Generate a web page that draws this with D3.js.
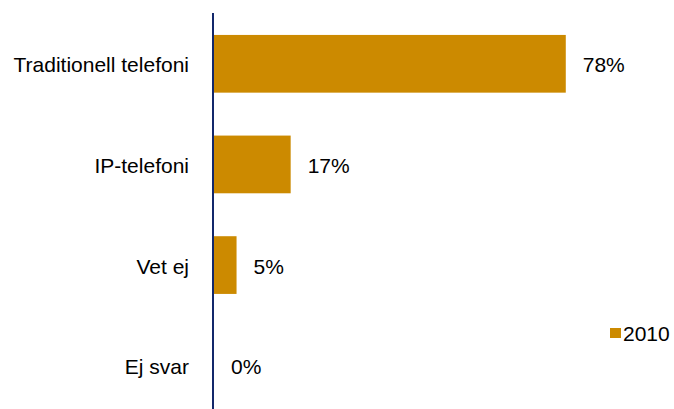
<!DOCTYPE html>
<html>
<head>
<meta charset="utf-8">
<script src="https://cdn.jsdelivr.net/npm/d3@7"></script>
<style>
  html, body { margin: 0; padding: 0; background: #fff; }
  svg { display: block; }
  text { font-family: "Liberation Sans", Arial, sans-serif; fill: #000; }
</style>
</head>
<body>
<script>
// Survey answers, share of respondents (%)
const categories = ["Traditionell telefoni", "IP-telefoni", "Vet ej", "Ej svar"];
const values2010 = [78, 17, 5, 0];
const seriesName = "2010";

const W = 674, H = 409;
const barColor = "#CC8A00";
const axisColor = "#13286B";
const fontSize = 21;

const svg = d3.select("body").append("svg")
  .attr("width", W).attr("height", H);

const x = d3.scaleLinear().domain([0, 100]).range([214, 665]);
const y = d3.scaleBand().domain(categories)
  .range([13.5, 416]).paddingInner(0.4265).paddingOuter(0.213);

// bars
svg.append("g").selectAll("rect")
  .data(categories)
  .join("rect")
  .attr("x", x(0))
  .attr("y", d => y(d))
  .attr("width", (d, i) => x(values2010[i]) - x(0))
  .attr("height", y.bandwidth())
  .attr("fill", barColor);

// value labels
svg.append("g").selectAll("text")
  .data(categories)
  .join("text")
  .attr("x", (d, i) => x(values2010[i]) + 17)
  .attr("y", d => y(d) + y.bandwidth() / 2 + 8.5)
  .attr("font-size", fontSize)
  .text((d, i) => values2010[i] + "%");

// category axis on the left
const yAxis = d3.axisLeft(y).tickSize(0).tickPadding(24);
const gAxis = svg.append("g")
  .attr("transform", `translate(${x(0) - 1},0)`)
  .call(yAxis);
gAxis.select(".domain").remove();
gAxis.selectAll("text")
  .attr("font-size", fontSize)
  .attr("font-family", "'Liberation Sans', Arial, sans-serif")
  .attr("fill", "#000")
  .attr("dy", null)
  .attr("y", 8.5);

// vertical axis line
svg.append("line")
  .attr("x1", x(0) - 1).attr("x2", x(0) - 1)
  .attr("y1", 13).attr("y2", H)
  .attr("stroke", axisColor).attr("stroke-width", 2);

// legend
const legend = svg.append("g").attr("transform", "translate(610,328)");
legend.append("rect")
  .attr("width", 11).attr("height", 10)
  .attr("fill", barColor);
legend.append("text")
  .attr("x", 13).attr("y", 12.7)
  .attr("font-size", fontSize)
  .text(seriesName);
</script>
</body>
</html>
